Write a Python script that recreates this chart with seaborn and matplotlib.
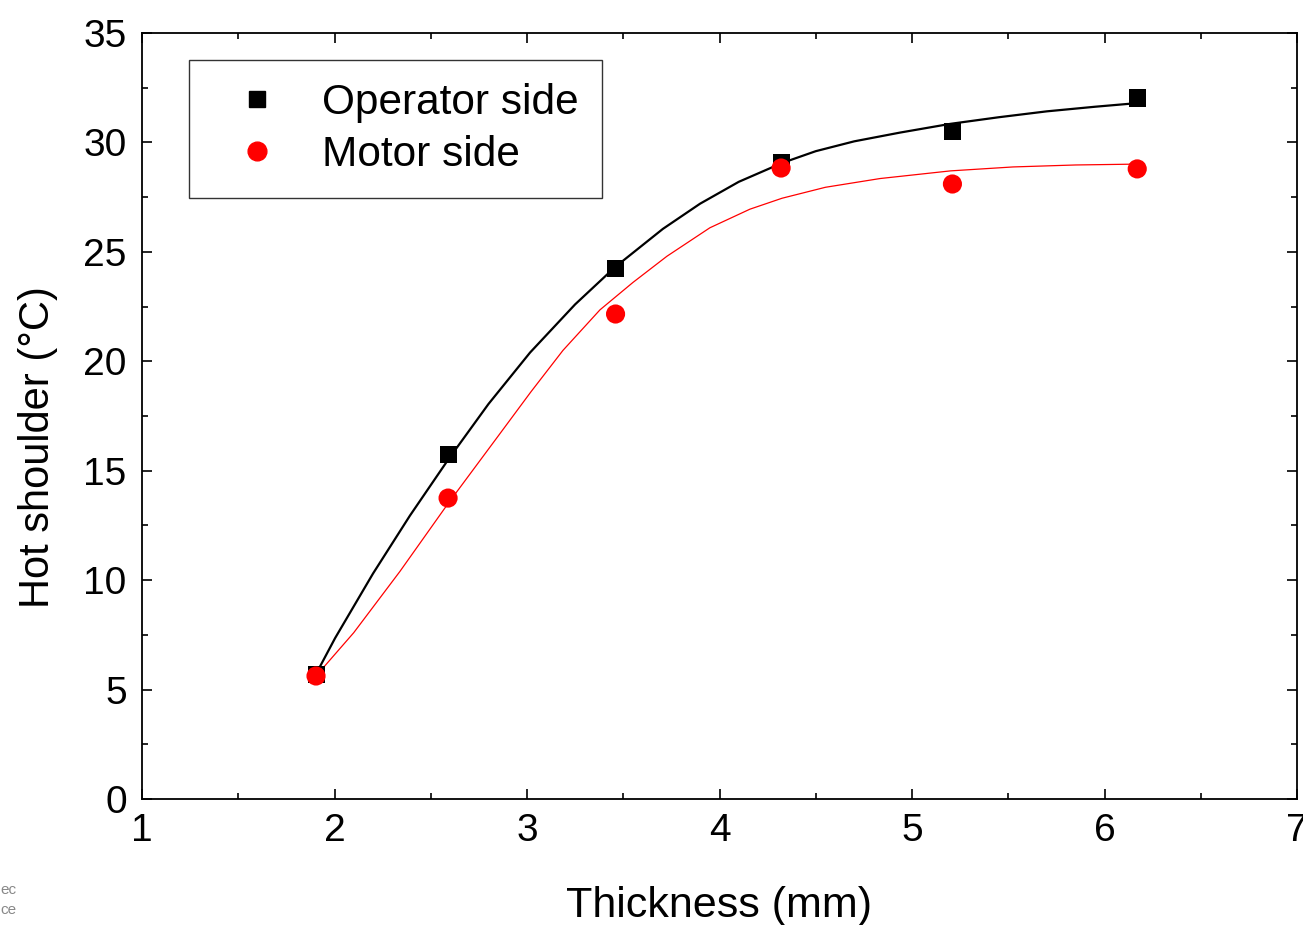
import matplotlib
matplotlib.use("Agg")
import matplotlib.pyplot as plt
import seaborn as sns
import pandas as pd
from matplotlib.ticker import MultipleLocator
from matplotlib.lines import Line2D

# Measured data
thickness = [1.904, 2.59, 3.46, 4.32, 5.21, 6.17]
operator_side = [5.71, 15.72, 24.26, 29.10, 30.48, 32.03]
motor_side = [5.62, 13.75, 22.16, 28.83, 28.10, 28.79]

# Fitted curves
fit_op_x = [1.904, 2.003, 2.20, 2.392, 2.59, 2.80, 3.016, 3.25, 3.457, 3.706,
            3.899, 4.10, 4.325, 4.50, 4.70, 4.938, 5.20, 5.45, 5.70, 5.95, 6.174]
fit_op_y = [5.71, 7.35, 10.3, 12.95, 15.5, 18.05, 20.4, 22.6, 24.3, 26.05,
            27.2, 28.2, 29.06, 29.6, 30.05, 30.45, 30.85, 31.15, 31.42, 31.63, 31.8]
fit_mo_x = [1.904, 2.10, 2.34, 2.59, 2.86, 3.02, 3.187, 3.379, 3.55, 3.727,
            3.95, 4.158, 4.325, 4.55, 4.834, 5.2, 5.525, 5.85, 6.174]
fit_mo_y = [5.62, 7.6, 10.4, 13.5, 16.7, 18.6, 20.5, 22.35, 23.6, 24.8,
            26.1, 26.95, 27.45, 27.95, 28.35, 28.7, 28.88, 28.97, 29.01]

xticks = [1, 2, 3, 4, 5, 6, 7]
yticks = [0, 5, 10, 15, 20, 25, 30, 35]

sns.set_style("ticks")
plt.rcParams['font.family'] = ['Liberation Sans', 'DejaVu Sans']
plt.rcParams['text.color'] = 'black'
plt.rcParams['axes.labelcolor'] = 'black'
plt.rcParams['xtick.color'] = 'black'
plt.rcParams['ytick.color'] = 'black'

fig = plt.figure(figsize=(13.03, 9.25), dpi=100)
ax = fig.add_axes([142 / 1303, 1 - 799 / 925, (1297 - 142) / 1303, (799 - 33) / 925])

df_pts = pd.DataFrame({"x": thickness, "op": operator_side, "mo": motor_side})
df_fop = pd.DataFrame({"x": fit_op_x, "y": fit_op_y})
df_fmo = pd.DataFrame({"x": fit_mo_x, "y": fit_mo_y})

sns.lineplot(data=df_fop, x="x", y="y", ax=ax, color="black", lw=1.6,
             sort=False, estimator=None, zorder=2)
sns.lineplot(data=df_fmo, x="x", y="y", ax=ax, color="#ff0000", lw=0.9,
             sort=False, estimator=None, zorder=2)
sns.scatterplot(data=df_pts, x="x", y="op", ax=ax, marker="s", color="black",
                s=150, edgecolor="none", zorder=3)
sns.scatterplot(data=df_pts, x="x", y="mo", ax=ax, marker="o", color="#ff0000",
                s=190, edgecolor="none", zorder=4)

ax.set_xlim(1, 7)
ax.set_ylim(0, 35)
ax.set_xticks(xticks)
ax.set_yticks(yticks)
ax.xaxis.set_minor_locator(MultipleLocator(0.5))
ax.yaxis.set_minor_locator(MultipleLocator(2.5))
ax.tick_params(which="both", direction="in", top=True, right=True, width=1.2, color="black")
ax.tick_params(which="major", length=7, labelsize=28, labelcolor="black")
ax.tick_params(which="minor", length=4)
ax.tick_params(axis="y", pad=11)
ax.tick_params(axis="x", pad=10)
for s in ax.spines.values():
    s.set_linewidth(1.3)
    s.set_color("black")

ax.set_xlabel("Thickness (mm)", fontsize=31, labelpad=27)
ax.set_ylabel("Hot shoulder (°C)", fontsize=30, labelpad=18)
ax.yaxis.set_label_coords(-0.073, (799 - 447) / 766)

handles = [
    Line2D([], [], marker="s", color="black", ls="none", markersize=12),
    Line2D([], [], marker="o", color="#ff0000", ls="none", markersize=13.5),
]
leg = ax.legend(handles, ["Operator side", "Motor side"], loc="upper left",
                bbox_to_anchor=((189 - 142) / 1155, 1 - (60 - 33) / 766),
                fontsize=30.5, frameon=True, fancybox=False, borderpad=0.55,
                handletextpad=0.5, labelspacing=0.28, borderaxespad=0,
                handlelength=2.1)
leg.get_frame().set_edgecolor("black")
leg.get_frame().set_linewidth(1.0)

fig.text(0.0, 1 - 890 / 925, "ec", fontsize=11, color="#888888", ha="left", va="center")
fig.text(0.0, 1 - 910 / 925, "ce", fontsize=11, color="#888888", ha="left", va="center")

fig.savefig("out.png", dpi=100, facecolor="white")
